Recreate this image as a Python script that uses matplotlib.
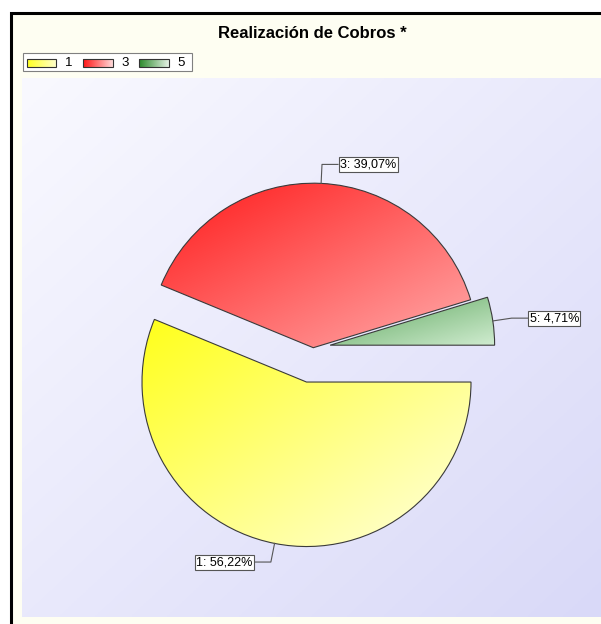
import numpy as np
import matplotlib
matplotlib.use('Agg')
import matplotlib.pyplot as plt
from matplotlib.patches import Rectangle
from matplotlib.colors import to_rgb

# data
categories = ['1', '3', '5']
values = [56.22, 39.07, 4.71]
title = 'Realización de Cobros *'

# styles
grad_start = ['#ffff1a', '#ff1a1a', '#5aa55a']
grad_end = ['#ffffe0', '#ffabab', '#d0ecd0']
legend_start = ['#ffff20', '#ff1515', '#2a8a2a']
legend_end = ['#ffffd0', '#ffdada', '#e6f2e6']
explode_px = [35, 0, 17]

W, H = 601, 624
plt.rcParams['font.family'] = ['Liberation Sans', 'DejaVu Sans']


def gradient(c0, c1, diag=True, n=200):
    c0 = np.array(to_rgb(c0))
    c1 = np.array(to_rgb(c1))
    xx, yy = np.meshgrid(np.linspace(0, 1, n), np.linspace(0, 1, n))
    t = (xx + yy) / 2 if diag else xx
    return c0 * (1 - t[..., None]) + c1 * t[..., None]


fig = plt.figure(figsize=(W / 100, H / 100), dpi=100)
fig.patch.set_facecolor('white')
ax = fig.add_axes([0, 0, 1, 1])
ax.set_axis_off()

# chart frame + plot area
ax.add_patch(Rectangle((11, 13.2), W + 40, H + 40, facecolor='#fefef2',
                       edgecolor='black', lw=2.2, zorder=0.2))
ax.imshow(gradient('#f9f9ff', '#d9d9f8'), extent=(22, W, 617, 78),
          origin='upper', aspect='auto', zorder=0.5)

# pie
wedges, _ = ax.pie(values, startangle=0, counterclock=True, radius=164.5,
                   center=(313.3, 347.7), explode=explode_px, frame=True,
                   wedgeprops=dict(edgecolor='#3a3a3a', linewidth=0.8))
for i, w in enumerate(wedges):
    ext = w.get_path().get_extents()
    im = ax.imshow(gradient(grad_start[i], grad_end[i]),
                   extent=(ext.x0, ext.x1, ext.y1, ext.y0),
                   origin='upper', aspect='auto', zorder=1.5)
    im.set_clip_path(w)
    w.set_facecolor('none')
    w.set_zorder(2)

    # label with elbow leader
    th = np.deg2rad((w.theta1 + w.theta2) / 2)
    cx, cy = w.center
    x0, y0 = cx + w.r * np.cos(th), cy + w.r * np.sin(th)
    x1, y1 = x0 + 19 * np.cos(th), y0 + 19 * np.sin(th)
    side = 1 if np.cos(th) >= 0 else -1
    x2 = x1 + 16 * side
    ax.plot([x0, x1, x2], [y0, y1, y1], color='#555555', lw=0.8, zorder=3)
    txt = f'{categories[i]}: {values[i]:.2f}%'.replace('.', ',')
    ax.text(x2 + 2 * side, y1, txt, ha='left' if side > 0 else 'right',
            va='center', fontsize=9, zorder=4,
            bbox=dict(boxstyle='square,pad=0.12', fc='white',
                      ec='#555555', lw=0.8))

# title
ax.text(312, 34, title, ha='center', va='center', fontsize=12,
        fontweight='bold')

# legend
ax.add_patch(Rectangle((22.7, 53.3), 169.6, 17.4, facecolor='white',
                       edgecolor='#808080', lw=0.8, zorder=3))
for i, cat in enumerate(categories):
    sx = 26.7 + 56.3 * i
    ax.imshow(gradient(legend_start[i], legend_end[i], diag=False),
              extent=(sx, sx + 29.5, 66.7, 58.7), origin='upper',
              aspect='auto', zorder=4)
    ax.add_patch(Rectangle((sx, 58.7), 29.5, 8, facecolor='none',
                           edgecolor='#333333', lw=0.8, zorder=5))
    ax.text(sx + 38, 62.8, cat, ha='left', va='center', fontsize=9.5,
            zorder=5)

ax.set_xlim(0, W)
ax.set_ylim(H, 0)
ax.set_aspect('auto')

fig.savefig('out.png', dpi=100)
